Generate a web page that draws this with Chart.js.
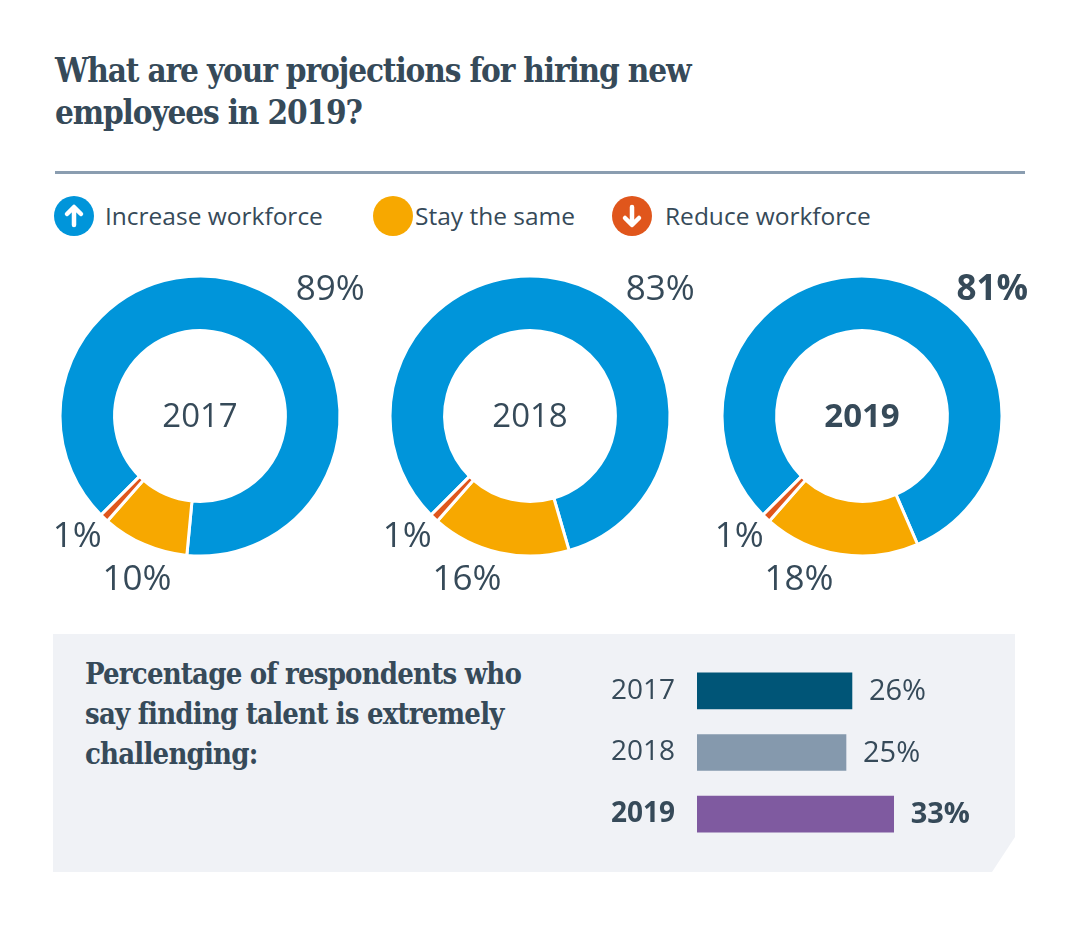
<!DOCTYPE html>
<html>
<head>
<meta charset="utf-8">
<script src="https://cdn.jsdelivr.net/npm/chart.js"></script>
<style>
  html, body { margin: 0; padding: 0; background: #fff; }
  body { width: 1080px; height: 926px; position: relative; overflow: hidden; font-family: "Open Sans", sans-serif; color: #364a59; }
  .title { position: absolute; left: 55px; top: 50px; font-family: "DejaVu Serif"; font-stretch: condensed; font-weight: bold; font-size: 33px; line-height: 42px; color: #364a59; letter-spacing: -1.15px; }
  .rule { position: absolute; left: 55px; top: 171px; width: 970px; height: 3px; background: #8a9db0; }
  .legend { position: absolute; top: 196px; left: 53px; height: 40px; }
  .legend .item { position: absolute; top: 0; white-space: nowrap; }
  .legend svg { position: absolute; left: 0; top: 0; }
  .legend span { position: absolute; top: 3px; font-size: 24.5px; line-height: 34px; color: #364a59; }
  canvas { position: absolute; }
  .panel { position: absolute; left: 53px; top: 634px; width: 962px; height: 238px; background: #f0f2f6;
           clip-path: polygon(0 0, 962px 0, 962px 203px, 939px 238px, 0 238px); }
  .panel-text { position: absolute; left: 85px; top: 654px; font-family: "DejaVu Serif"; font-stretch: condensed; font-weight: bold; font-size: 29px; line-height: 40px; color: #364a59; letter-spacing: -0.8px; }
</style>
</head>
<body>
<div class="title">What are your projections for hiring new<br>employees in 2019?</div>
<div class="rule"></div>
<div class="legend" id="legend"></div>

<canvas id="d0" width="380" height="400" style="left:10px; top:216px"></canvas>
<canvas id="d1" width="380" height="400" style="left:340px; top:216px"></canvas>
<canvas id="d2" width="380" height="400" style="left:672px; top:216px"></canvas>

<div class="panel"></div>
<div class="panel-text">Percentage of respondents who<br>say finding talent is extremely<br>challenging:</div>
<canvas id="bars" width="415" height="185" style="left:580px; top:660px"></canvas>

<script>
// data
var years = ['2017', '2018', '2019'];
var segmentNames = ['Increase workforce', 'Stay the same', 'Reduce workforce'];
var increase = [89, 83, 81];
var same = [10, 16, 18];
var reduce = [1, 1, 1];
var talentYears = ['2017', '2018', '2019'];
var talentValues = [26, 25, 33];

var textColor = '#364a59';
var segColors = ['#0095da', '#f7a800', '#e0561c'];
var barColors = ['#005577', '#8599ad', '#7f5aa0'];

// legend (html)
var legendPos = [0, 319, 558];
var legendHtml = '';
segmentNames.forEach(function (name, i) {
    var arrow = '';
    if (i == 0) arrow = '<path d="M21 29 V12 M14 18 L21 11 L28 18" stroke="#fff" stroke-width="4.5" fill="none" stroke-linecap="round" stroke-linejoin="round"/>';
    if (i == 2) arrow = '<path d="M21 11 V28 M14 22 L21 29 L28 22" stroke="#fff" stroke-width="4.5" fill="none" stroke-linecap="round" stroke-linejoin="round"/>';
    legendHtml += '<div class="item" style="left:' + legendPos[i] + 'px">' +
        '<svg width="42" height="40"><ellipse cx="21" cy="20" rx="20" ry="20" fill="' + segColors[i] + '"/>' + arrow + '</svg>' +
        '<span style="left:' + (i == 2 ? 54 : (i == 1 ? 43 : 52)) + 'px">' + name + '</span></div>';
});
document.getElementById('legend').innerHTML = legendHtml;

// labels round each doughnut
var donutText = {
    id: 'donutText',
    afterDraw: function (chart) {
        var o = chart.options.plugins.donutText;
        var arc = chart.getDatasetMeta(0).data[0];
        var cx = arc.x, cy = arc.y;
        var ctx = chart.ctx;
        ctx.save();
        ctx.fillStyle = textColor;
        ctx.textAlign = 'center';
        ctx.textBaseline = 'middle';
        ctx.font = (o.bold ? 'bold ' : '') + '33px "Open Sans"';
        ctx.fillText(o.year, cx, cy + 2);
        chart.data.datasets[0].data.forEach(function (v, i) {
            var a = o.angles[i] * Math.PI / 180;
            var d = o.dist[i];
            ctx.font = (o.bold && i == 0 ? 'bold ' : '') + '35px "Open Sans"';
            ctx.fillText(v + '%', cx + Math.sin(a) * d, cy - Math.cos(a) * d);
        });
        ctx.restore();
    }
};

years.forEach(function (year, k) {
    new Chart(document.getElementById('d' + k), {
        type: 'doughnut',
        data: {
            labels: segmentNames,
            datasets: [{
                data: [increase[k], same[k], reduce[k]],
                backgroundColor: segColors,
                borderColor: '#ffffff',
                borderWidth: 3
            }]
        },
        options: {
            responsive: false,
            animation: false,
            rotation: 225,
            radius: 140,
            cutout: '61%',
            plugins: {
                legend: { display: false },
                tooltip: { enabled: false },
                donutText: { year: year, bold: k == 2, angles: [46, 201, 225.5], dist: [181, 176, 172] }
            }
        },
        plugins: [donutText]
    });
});

// horizontal bars
var barValues = {
    id: 'barValues',
    afterDatasetsDraw: function (chart) {
        var ctx = chart.ctx;
        var meta = chart.getDatasetMeta(0);
        ctx.save();
        ctx.fillStyle = textColor;
        ctx.textAlign = 'left';
        ctx.textBaseline = 'middle';
        meta.data.forEach(function (bar, i) {
            ctx.font = (i == 2 ? 'bold ' : '') + '29px "Open Sans"';
            ctx.fillText(talentValues[i] + '%', bar.x + 17, bar.y + 1);
        });
        ctx.restore();
    }
};

new Chart(document.getElementById('bars'), {
    type: 'bar',
    data: {
        labels: talentYears,
        datasets: [{
            data: talentValues,
            backgroundColor: barColors,
            borderWidth: 0,
            barThickness: 36
        }]
    },
    options: {
        indexAxis: 'y',
        responsive: false,
        animation: false,
        layout: { padding: 0 },
        scales: {
            x: { display: false, min: 0, max: 50 },
            y: {
                grid: { display: false, drawTicks: false },
                border: { display: false },
                afterFit: function (scale) {
                    scale.width = 117;
                    scale.paddingTop = 0;
                    scale.paddingBottom = 0;
                },
                ticks: {
                    padding: 22,
                    color: textColor,
                    font: function (c) {
                        return { family: 'Open Sans', size: 28, weight: c.index == 2 ? 'bold' : 'normal' };
                    }
                }
            }
        },
        plugins: { legend: { display: false }, tooltip: { enabled: false } }
    },
    plugins: [barValues]
});
</script>
</body>
</html>
